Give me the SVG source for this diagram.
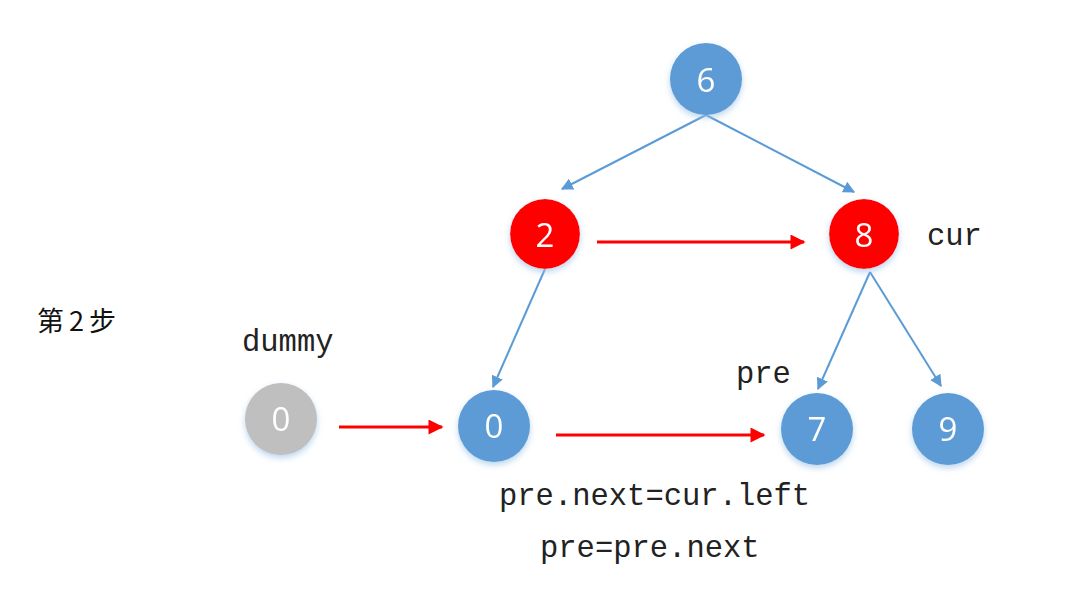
<svg xmlns="http://www.w3.org/2000/svg" width="1072" height="605" viewBox="0 0 1072 605">
  <style>
    .blue { fill: #5B9BD5; }
    .red { fill: #FF0000; }
    .gray { fill: #BFBFBF; }
    .num { font-family: "Open Sans", "Liberation Sans", sans-serif; font-size: 33px; fill: #FFFFFF; text-anchor: middle; dominant-baseline: central; }
    .code { font-family: "Liberation Mono", monospace; font-size: 30.5px; fill: #222222; }
    .tree { stroke: #5B9BD5; stroke-width: 2; fill: none; marker-end: url(#headBlue); }
    .link { stroke: #FF0000; stroke-width: 3; fill: none; marker-end: url(#headRed); }
  </style>
  <defs>
    <filter id="glow" x="-30%" y="-30%" width="160%" height="170%">
      <feGaussianBlur in="SourceAlpha" stdDeviation="3"/>
      <feOffset dy="3" result="b"/>
      <feFlood flood-color="#9DC3E6" flood-opacity="0.7"/>
      <feComposite in2="b" operator="in"/>
      <feMerge><feMergeNode/><feMergeNode in="SourceGraphic"/></feMerge>
    </filter>
    <marker id="headBlue" viewBox="0 0 10 10" refX="9" refY="5" markerWidth="6" markerHeight="6" markerUnits="strokeWidth" orient="auto">
      <path d="M0,0 L10,5 L0,10 z" fill="#5B9BD5"/>
    </marker>
    <marker id="headRed" viewBox="0 0 10 10" refX="9" refY="5" markerWidth="6" markerHeight="5" markerUnits="strokeWidth" orient="auto">
      <path d="M0,0 L10,5 L0,10 z" fill="#FF0000"/>
    </marker>
  </defs>

  <rect width="1072" height="605" fill="#FFFFFF"/>

  <g id="connectors">
    <line class="tree" x1="706" y1="115" x2="562" y2="189"/>
    <line class="tree" x1="706" y1="115" x2="854" y2="192"/>
    <line class="tree" x1="545" y1="269" x2="493" y2="387"/>
    <line class="tree" x1="870" y1="272" x2="818" y2="389"/>
    <line class="tree" x1="870" y1="272" x2="941" y2="386"/>
    <line class="link" x1="597" y1="242" x2="804" y2="242"/>
    <line class="link" x1="339" y1="427" x2="442" y2="427"/>
    <line class="link" x1="556" y1="435" x2="764" y2="435"/>
  </g>

  <g id="node-6" filter="url(#glow)">
    <circle class="blue" cx="706" cy="79" r="36"/>
    <text class="num" x="706" y="79">6</text>
  </g>
  <g id="node-2" filter="url(#glow)">
    <circle class="red" cx="545" cy="234" r="35"/>
    <text class="num" x="545" y="234">2</text>
  </g>
  <g id="node-8" filter="url(#glow)">
    <circle class="red" cx="864" cy="234" r="35"/>
    <text class="num" x="864" y="234">8</text>
  </g>
  <g id="node-dummy" filter="url(#glow)">
    <circle class="gray" cx="281" cy="419" r="36"/>
    <text class="num" x="281" y="418">0</text>
  </g>
  <g id="node-0" filter="url(#glow)">
    <circle class="blue" cx="494" cy="426" r="36"/>
    <text class="num" x="494" y="425">0</text>
  </g>
  <g id="node-7" filter="url(#glow)">
    <circle class="blue" cx="817" cy="429" r="36"/>
    <text class="num" x="817" y="428">7</text>
  </g>
  <g id="node-9" filter="url(#glow)">
    <circle class="blue" cx="948" cy="429" r="36"/>
    <text class="num" x="948" y="428">9</text>
  </g>

  <g id="labels">
    <text class="code" x="927" y="245">cur</text>
    <text class="code" x="242" y="351">dummy</text>
    <text class="code" x="736" y="383">pre</text>
    <text class="code" x="499" y="505">pre.next=cur.left</text>
    <text class="code" x="540" y="557">pre=pre.next</text>
    <text x="37" y="331" font-family="'Noto Sans CJK SC', sans-serif" font-size="27" letter-spacing="5" fill="#111111">第2步</text>
  </g>
</svg>
